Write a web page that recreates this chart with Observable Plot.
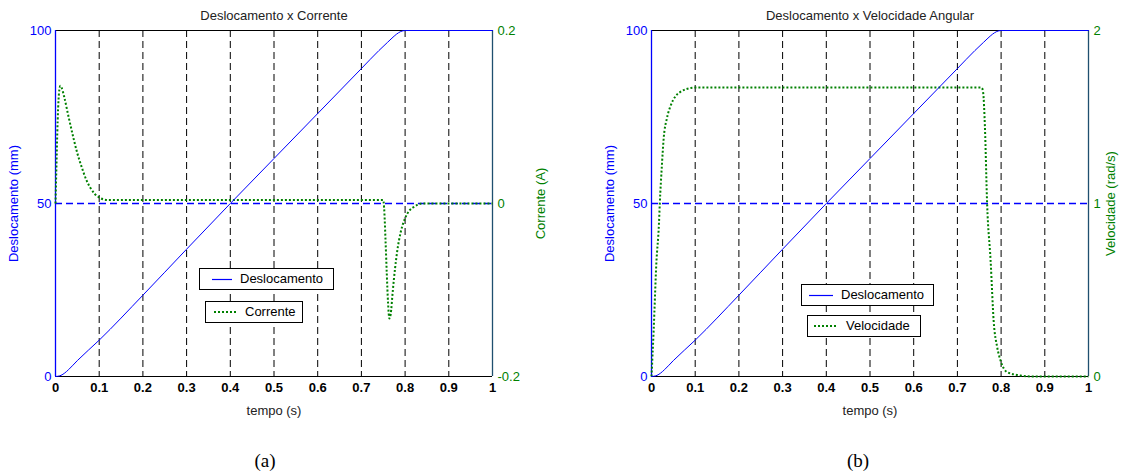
<!DOCTYPE html>
<html>
<head>
<meta charset="utf-8">
<script src="https://cdn.jsdelivr.net/npm/d3@7"></script>
<script src="https://cdn.jsdelivr.net/npm/@observablehq/plot@0.6"></script>
<style>
  html, body { margin: 0; padding: 0; background: #fff; }
  #page { position: relative; width: 1126px; height: 473px; overflow: hidden; font-family: "Liberation Sans", Arial, sans-serif; }
  .chart { position: absolute; top: 0; }
  .chart svg { overflow: visible; }
  .caption { position: absolute; top: 450px; font-family: "Liberation Serif", "Times New Roman", serif; font-size: 19px; line-height: 22px; transform: translateX(-50%); color: #000; }
  .legend { position: absolute; background: #fff; border: 1px solid #000; box-sizing: border-box; font-size: 13px; color: #000; }
  .legend svg { position: absolute; left: 0; top: 0; }
  .legend span { position: absolute; top: 2px; line-height: 16px; white-space: nowrap; }
</style>
</head>
<body>
<div id="page"></div>
<script>
// ---------------- data ----------------
const xTicks = [0, 0.1, 0.2, 0.3, 0.4, 0.5, 0.6, 0.7, 0.8, 0.9, 1];
const gridX = [0.1, 0.2, 0.3, 0.4, 0.5, 0.6, 0.7, 0.8, 0.9];
const deslocTicks = [0, 50, 100];
const corrTicks = [-0.2, 0, 0.2];
const velTicks = [0, 1, 2];

// Deslocamento (mm) vs tempo (s)
const tDesloc = [0, 0.01, 0.02, 0.03, 0.05, 0.1, 0.2, 0.3, 0.4, 0.5, 0.6, 0.7, 0.74, 0.76, 0.77, 0.78, 0.79, 0.8, 1];
const desloc  = [0, 0.2, 0.9, 2.0, 4.6, 10.5, 23.5, 36.8, 50, 63, 76, 89, 94.2, 96.6, 97.8, 98.9, 99.7, 100, 100];

// Corrente (A) vs tempo (s)
const tCorr = [0, 0.002, 0.004, 0.006, 0.008, 0.011, 0.014, 0.02, 0.03, 0.04, 0.05, 0.06, 0.07, 0.08, 0.09, 0.1, 0.12,
               0.75, 0.752, 0.755, 0.758, 0.761, 0.764, 0.767, 0.772, 0.777, 0.782, 0.79, 0.8, 0.81, 0.82, 0.83, 0.84, 1];
const corr  = [0, 0.04, 0.08, 0.11, 0.128, 0.136, 0.134, 0.123, 0.1, 0.078, 0.058, 0.042, 0.028, 0.018, 0.011, 0.007, 0.004,
               0.004, -0.005, -0.04, -0.08, -0.115, -0.133, -0.128, -0.1, -0.075, -0.055, -0.033, -0.017, -0.008, -0.004, -0.001, 0, 0];

// Velocidade (rad/s) vs tempo (s)
const tVel = [0, 0.005, 0.011, 0.017, 0.019, 0.024, 0.028, 0.035, 0.043, 0.055, 0.066, 0.078, 0.09, 0.1,
              0.753, 0.756, 0.759, 0.763, 0.768, 0.776, 0.783, 0.791, 0.799, 0.814, 0.844, 0.87, 1];
const vel  = [0, 0.27, 0.65, 0.88, 1.0, 1.23, 1.38, 1.49, 1.56, 1.62, 1.645, 1.66, 1.668, 1.67,
              1.67, 1.668, 1.64, 1.44, 1.0, 0.67, 0.32, 0.17, 0.09, 0.025, 0.006, 0, 0];

// ---------------- styling ----------------
const BLUE = "#0000ff", GREEN = "#008000", RIGHTEDGE = "#1f4f6f";
const FONT = "'Liberation Sans', Arial, Helvetica, sans-serif";
const DOTS = "2,2";
const page = document.getElementById("page");

function makeChart({left, width, marginRight, title, rightLabel, rightTicks, rightMin, rightMax, tSec, sec, rightLabelOffset}) {
  const toY = v => (v - rightMin) / (rightMax - rightMin) * 100;
  const deslocData = tDesloc.map((t, i) => ({t, v: desloc[i]}));
  const secData = tSec.map((t, i) => ({t, v: sec[i]}));
  const chart = Plot.plot({
    width, height: 420,
    marginLeft: 55, marginRight, marginTop: 30, marginBottom: 44,
    x: {domain: [0, 1]},
    y: {domain: [0, 100]},
    style: {fontFamily: FONT, fontSize: "13px", background: "transparent", overflow: "visible"},
    marks: [
      Plot.ruleX(gridX, {stroke: "#000", strokeWidth: 1, strokeDasharray: "7,4"}),
      Plot.ruleY([0, 100], {stroke: "#000", strokeWidth: 1}),
      Plot.ruleY([50], {stroke: "blue", strokeWidth: 1.3, strokeDasharray: "7,4"}),
      Plot.ruleX([0], {stroke: BLUE, strokeWidth: 1.3}),
      Plot.ruleX([1], {stroke: RIGHTEDGE, strokeWidth: 1.3}),
      Plot.line(secData, {x: "t", y: d => toY(d.v), stroke: GREEN, strokeWidth: 2, strokeDasharray: DOTS,
                          strokeLinecap: "butt", curve: "monotone-x"}),
      Plot.line(deslocData, {x: "t", y: "v", stroke: BLUE, strokeWidth: 1, curve: "monotone-x"}),
      Plot.axisX({ticks: xTicks, tickSize: 0, tickPadding: 6, tickFormat: d => String(d), fill: "#000", fontWeight: "bold", label: null}),
      Plot.axisX({ticks: [], tickSize: 0, fill: "#222",
                  label: "tempo (s)", labelAnchor: "center", labelOffset: 38, labelArrow: "none"}),
      Plot.axisY({anchor: "left", ticks: deslocTicks, tickSize: 0, tickPadding: 4, fill: BLUE, tickFormat: d => String(d),
                  label: "Deslocamento (mm)", labelAnchor: "center", labelOffset: 47, labelArrow: "none"}),
      Plot.axisY({anchor: "right", ticks: rightTicks.map(toY), tickSize: 0, tickPadding: 5, fill: GREEN,
                  tickFormat: (d, i) => String(rightTicks[i]),
                  label: rightLabel, labelAnchor: "center", labelOffset: rightLabelOffset, labelArrow: "none"}),
      Plot.text([title], {frameAnchor: "top", dy: -15, lineAnchor: "middle", fill: "#222", fontSize: 13})
    ]
  });
  const wrap = document.createElement("div");
  wrap.className = "chart";
  wrap.style.left = left + "px";
  wrap.appendChild(chart);
  page.appendChild(wrap);
}

makeChart({left: 0, width: 563, marginRight: 71, title: "Deslocamento x Corrente", rightLabel: "Corrente (A)",
           rightTicks: corrTicks, rightMin: -0.2, rightMax: 0.2, tSec: tCorr, sec: corr, rightLabelOffset: 52});
makeChart({left: 596, width: 530, marginRight: 38, title: "Deslocamento x Velocidade Angular", rightLabel: "Velocidade (rad/s)",
           rightTicks: velTicks, rightMin: 0, rightMax: 2, tSec: tVel, sec: vel, rightLabelOffset: 26});

// ---------------- legends ----------------
function legendBox({x, y, w, h, sx1, sx2, textX, label, dotted}) {
  const box = document.createElement("div");
  box.className = "legend";
  Object.assign(box.style, {left: x + "px", top: y + "px", width: w + "px", height: h + "px"});
  const ns = "http://www.w3.org/2000/svg";
  const svg = document.createElementNS(ns, "svg");
  svg.setAttribute("width", w); svg.setAttribute("height", h);
  const ln = document.createElementNS(ns, "line");
  const yy = dotted ? 10 : 10.5;
  ln.setAttribute("x1", sx1 - x); ln.setAttribute("x2", sx2 - x);
  ln.setAttribute("y1", yy); ln.setAttribute("y2", yy);
  ln.setAttribute("stroke", dotted ? GREEN : "blue");
  ln.setAttribute("stroke-width", dotted ? 2 : 1.2);
  if (dotted) ln.setAttribute("stroke-dasharray", DOTS);
  svg.appendChild(ln);
  box.appendChild(svg);
  const sp = document.createElement("span");
  sp.textContent = label;
  sp.style.left = (textX - x) + "px";
  box.appendChild(sp);
  page.appendChild(box);
}
legendBox({x: 199, y: 268, w: 135, h: 22, sx1: 211, sx2: 231, textX: 239, label: "Deslocamento"});
legendBox({x: 205, y: 301, w: 98, h: 22, sx1: 213, sx2: 235, textX: 244, label: "Corrente", dotted: true});
legendBox({x: 801, y: 284, w: 133, h: 22, sx1: 808, sx2: 832, textX: 840, label: "Deslocamento"});
legendBox({x: 807, y: 315, w: 114, h: 22, sx1: 813, sx2: 835, textX: 845, label: "Velocidade", dotted: true});

// ---------------- captions ----------------
[["(a)", 265], ["(b)", 858]].forEach(([txt, cx]) => {
  const c = document.createElement("div");
  c.className = "caption";
  c.style.left = cx + "px";
  c.textContent = txt;
  page.appendChild(c);
});
</script>
</body>
</html>
